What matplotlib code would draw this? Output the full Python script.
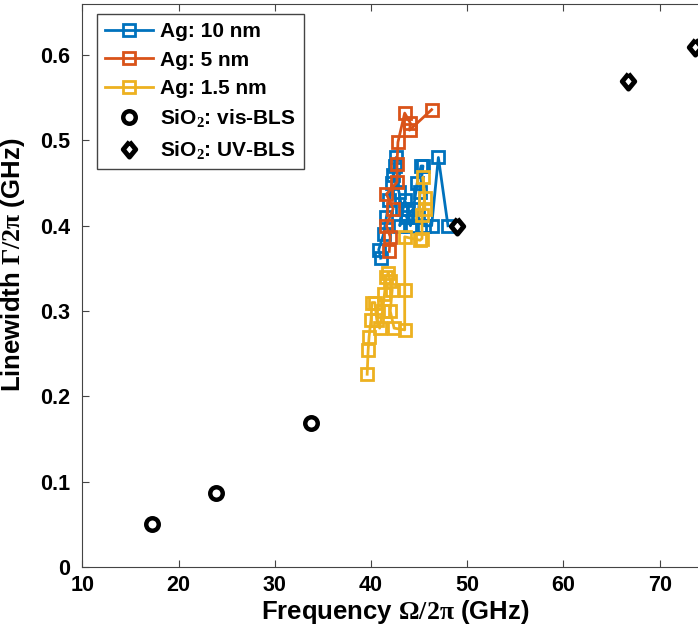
import matplotlib
matplotlib.use('Agg')
import matplotlib.pyplot as plt

# Ag films (frequency GHz, linewidth GHz)
ag10_x = [41.0, 40.8, 41.3, 41.6, 41.9, 42.2, 42.5, 42.6, 42.3, 42.9, 43.2, 43.0,
          43.5, 43.8, 44.1, 43.7, 44.4, 44.8, 45.2, 45.4, 45.1, 44.9, 45.5, 46.3, 47.0, 48.0]
ag10_y = [0.362, 0.372, 0.39, 0.41, 0.43, 0.45, 0.47, 0.48, 0.46, 0.44, 0.42, 0.40,
          0.43, 0.42, 0.40, 0.41, 0.42, 0.45, 0.47, 0.47, 0.44, 0.41, 0.40, 0.40, 0.48, 0.40]

ag5_x = [41.9, 42.0, 41.6, 42.3, 41.6, 42.7, 42.7, 42.8, 43.5, 44.1, 44.0, 46.3]
ag5_y = [0.370, 0.387, 0.400, 0.420, 0.437, 0.451, 0.472, 0.498, 0.532, 0.520, 0.512, 0.536]

ag15_x = [39.6, 39.7, 39.8, 40.0, 40.1, 40.4, 40.6, 40.9, 41.2, 41.4, 41.6, 41.8,
          42.0, 42.2, 42.0, 42.4, 43.5, 43.5, 43.5, 45.1, 45.3, 45.3, 45.6, 45.4, 45.6]
ag15_y = [0.226, 0.254, 0.270, 0.290, 0.310, 0.310, 0.290, 0.280, 0.300, 0.320, 0.340,
          0.345, 0.335, 0.325, 0.300, 0.280, 0.278, 0.325, 0.387, 0.383, 0.385, 0.413,
          0.433, 0.457, 0.420]

# bulk SiO2 reference points
vis_x = [17.2, 23.9, 33.8]
vis_y = [0.050, 0.087, 0.169]
uv_x = [48.9, 66.7, 73.7]
uv_y = [0.400, 0.570, 0.610]

plt.rcParams['font.family'] = ['Liberation Sans', 'DejaVu Sans']
plt.rcParams['font.weight'] = 'bold'
plt.rcParams['mathtext.fontset'] = 'custom'
plt.rcParams['mathtext.rm'] = 'Liberation Serif'
plt.rcParams['mathtext.it'] = 'Liberation Serif:italic'
plt.rcParams['mathtext.bf'] = 'Liberation Serif:bold'

fig = plt.figure(figsize=(6.98, 6.43), dpi=100)
ax = fig.add_axes([0.118, 0.118, 0.896, 0.876])

# matlab style diamond (a bit taller than wide)
diamond = [(0, 1), (0.82, 0), (0, -1), (-0.82, 0), (0, 1)]

sq = dict(marker='s', mfc='none', ms=8, mew=2, lw=2)
ax.plot(ag10_x, ag10_y, color='#0072BD', label='Ag: 10 nm', **sq)
ax.plot(ag5_x, ag5_y, color='#D95319', label='Ag: 5 nm', **sq)
ax.plot(ag15_x, ag15_y, color='#EDB120', label='Ag: 1.5 nm', **sq)
ax.plot(vis_x, vis_y, 'o', mfc='white', mec='black', ms=9, mew=3.2, ls='none',
        label='SiO$_2$: vis-BLS')
ax.plot(uv_x, uv_y, marker=diamond, mfc='white', mec='black', ms=11, mew=3.5, ls='none',
        label='SiO$_2$: UV-BLS')

ax.set_xlim(10, 75)
ax.set_ylim(0, 0.66)
ax.set_xticks([10, 20, 30, 40, 50, 60, 70])
ax.set_yticks([0, 0.1, 0.2, 0.3, 0.4, 0.5, 0.6])
ax.set_yticklabels(['0', '0.1', '0.2', '0.3', '0.4', '0.5', '0.6'])
ax.tick_params(labelsize=15.5, direction='in', top=True, right=True, length=5,
               color='#444444')
ax.tick_params(axis='y', pad=9)
ax.tick_params(axis='x', pad=6)
for s in ax.spines.values():
    s.set_color('#444444')

ax.set_xlabel(r'Frequency $\mathrm{\Omega/2\pi}$ (GHz)', fontsize=18.5, fontweight='bold',
              labelpad=1)
ax.set_ylabel(r'Linewidth $\mathrm{\Gamma/2\pi}$ (GHz)', fontsize=18.5, fontweight='bold')
ax.yaxis.set_label_coords(-0.088, 0.536)

leg = ax.legend(loc='upper left', bbox_to_anchor=(0.0235, 0.982), borderaxespad=0,
                fontsize=15, handlelength=2.3, handletextpad=0.3, labelspacing=0.45,
                borderpad=0.4, fancybox=False, framealpha=1, edgecolor='#444444')
leg.get_frame().set_linewidth(1)

fig.savefig('out.png', dpi=100)
